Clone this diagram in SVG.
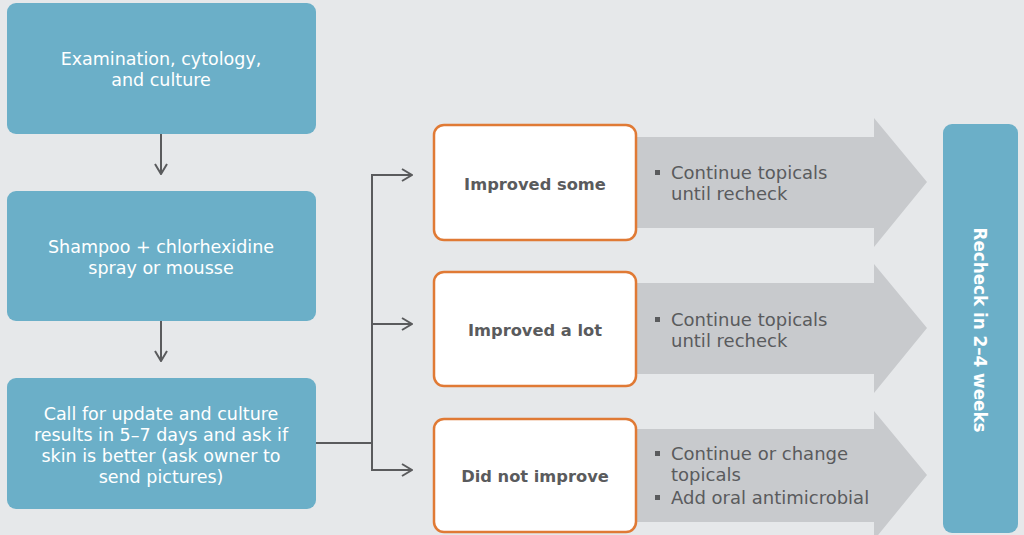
<svg xmlns="http://www.w3.org/2000/svg" width="1024" height="535" viewBox="0 0 1024 535">
<defs>
<style>
.bg{fill:#E6E8EA}
.blue{fill:#6BAFC8}
.obox{fill:#FFFFFF;stroke:#E07A35;stroke-width:2.5}
.garrow{fill:#C8CACD}
.wt{font-family:"DejaVu Sans","Noto Sans",sans-serif;font-size:17.5px;fill:#FFFFFF;text-anchor:middle}
.bt{font-family:"DejaVu Sans","Noto Sans",sans-serif;font-size:16.3px;font-weight:bold;fill:#5A5B5D;text-anchor:middle}
.gt{font-family:"DejaVu Sans","Noto Sans",sans-serif;font-size:18px;fill:#5A5B5D}
.bul{fill:#5A5B5D}
.conn{fill:none;stroke:#5A5B5D;stroke-width:2}
.rt{font-family:"DejaVu Sans","Noto Sans",sans-serif;font-size:16.8px;font-weight:bold;fill:#FFFFFF;text-anchor:middle}
</style>
<marker id="chev" viewBox="0 0 12 14" markerWidth="12" markerHeight="14" refX="11" refY="7" orient="auto" markerUnits="userSpaceOnUse">
<path d="M1 1 L11 7 L1 13" fill="none" stroke="#5A5B5D" stroke-width="2"/>
</marker>
</defs>
<rect class="bg" x="0" y="0" width="1024" height="535"/>

<g id="connectors">
<line class="conn" x1="161" y1="134" x2="161" y2="174" marker-end="url(#chev)"/>
<line class="conn" x1="161" y1="321" x2="161" y2="361" marker-end="url(#chev)"/>
<line class="conn" x1="316" y1="443" x2="372" y2="443"/>
<path class="conn" d="M412 175 H372 V470 H412"/>
<line class="conn" x1="372" y1="175" x2="412" y2="175" marker-end="url(#chev)"/>
<line class="conn" x1="372" y1="324" x2="412" y2="324" marker-end="url(#chev)"/>
<line class="conn" x1="372" y1="470" x2="412" y2="470" marker-end="url(#chev)"/>
</g>

<g id="node-exam">
<rect class="blue" x="7" y="3" width="309" height="131" rx="9"/>
<text class="wt" x="161" y="65">Examination, cytology,</text>
<text class="wt" x="161" y="86">and culture</text>
</g>

<g id="node-shampoo">
<rect class="blue" x="7" y="191" width="309" height="130" rx="9"/>
<text class="wt" x="161" y="253">Shampoo + chlorhexidine</text>
<text class="wt" x="161" y="274">spray or mousse</text>
</g>

<g id="node-call">
<rect class="blue" x="7" y="378" width="309" height="131" rx="9"/>
<text class="wt" x="161" y="420">Call for update and culture</text>
<text class="wt" x="161" y="441">results in 5–7 days and ask if</text>
<text class="wt" x="161" y="462">skin is better (ask owner to</text>
<text class="wt" x="161" y="483">send pictures)</text>
</g>

<g id="arrow-some">
<path class="garrow" d="M636 137 H874 V118 L927 182 L874 247 V228 H636 Z"/>
<rect class="bul" x="655" y="170" width="5" height="5"/>
<text class="gt" x="671" y="179">Continue topicals</text>
<text class="gt" x="671" y="200">until recheck</text>
</g>

<g id="arrow-lot">
<path class="garrow" d="M636 283 H874 V264 L927 328 L874 393 V374 H636 Z"/>
<rect class="bul" x="655" y="317" width="5" height="5"/>
<text class="gt" x="671" y="326">Continue topicals</text>
<text class="gt" x="671" y="347">until recheck</text>
</g>

<g id="arrow-not">
<path class="garrow" d="M636 429 H874 V411 L927 475 L874 540 V522 H636 Z"/>
<rect class="bul" x="655" y="451" width="5" height="5"/>
<text class="gt" x="671" y="460">Continue or change</text>
<text class="gt" x="671" y="481">topicals</text>
<rect class="bul" x="655" y="495" width="5" height="5"/>
<text class="gt" x="671" y="504">Add oral antimicrobial</text>
</g>

<g id="node-some">
<rect class="obox" x="434" y="125" width="202" height="115" rx="10"/>
<text class="bt" x="535" y="190">Improved some</text>
</g>

<g id="node-lot">
<rect class="obox" x="434" y="272" width="202" height="114" rx="10"/>
<text class="bt" x="535" y="336">Improved a lot</text>
</g>

<g id="node-not">
<rect class="obox" x="434" y="419" width="202" height="113" rx="10"/>
<text class="bt" x="535" y="482">Did not improve</text>
</g>

<g id="node-recheck">
<rect class="blue" x="943" y="124" width="75" height="409" rx="9"/>
<text class="rt" transform="translate(980,330) rotate(90)" x="0" y="6">Recheck in 2–4 weeks</text>
</g>
</svg>
